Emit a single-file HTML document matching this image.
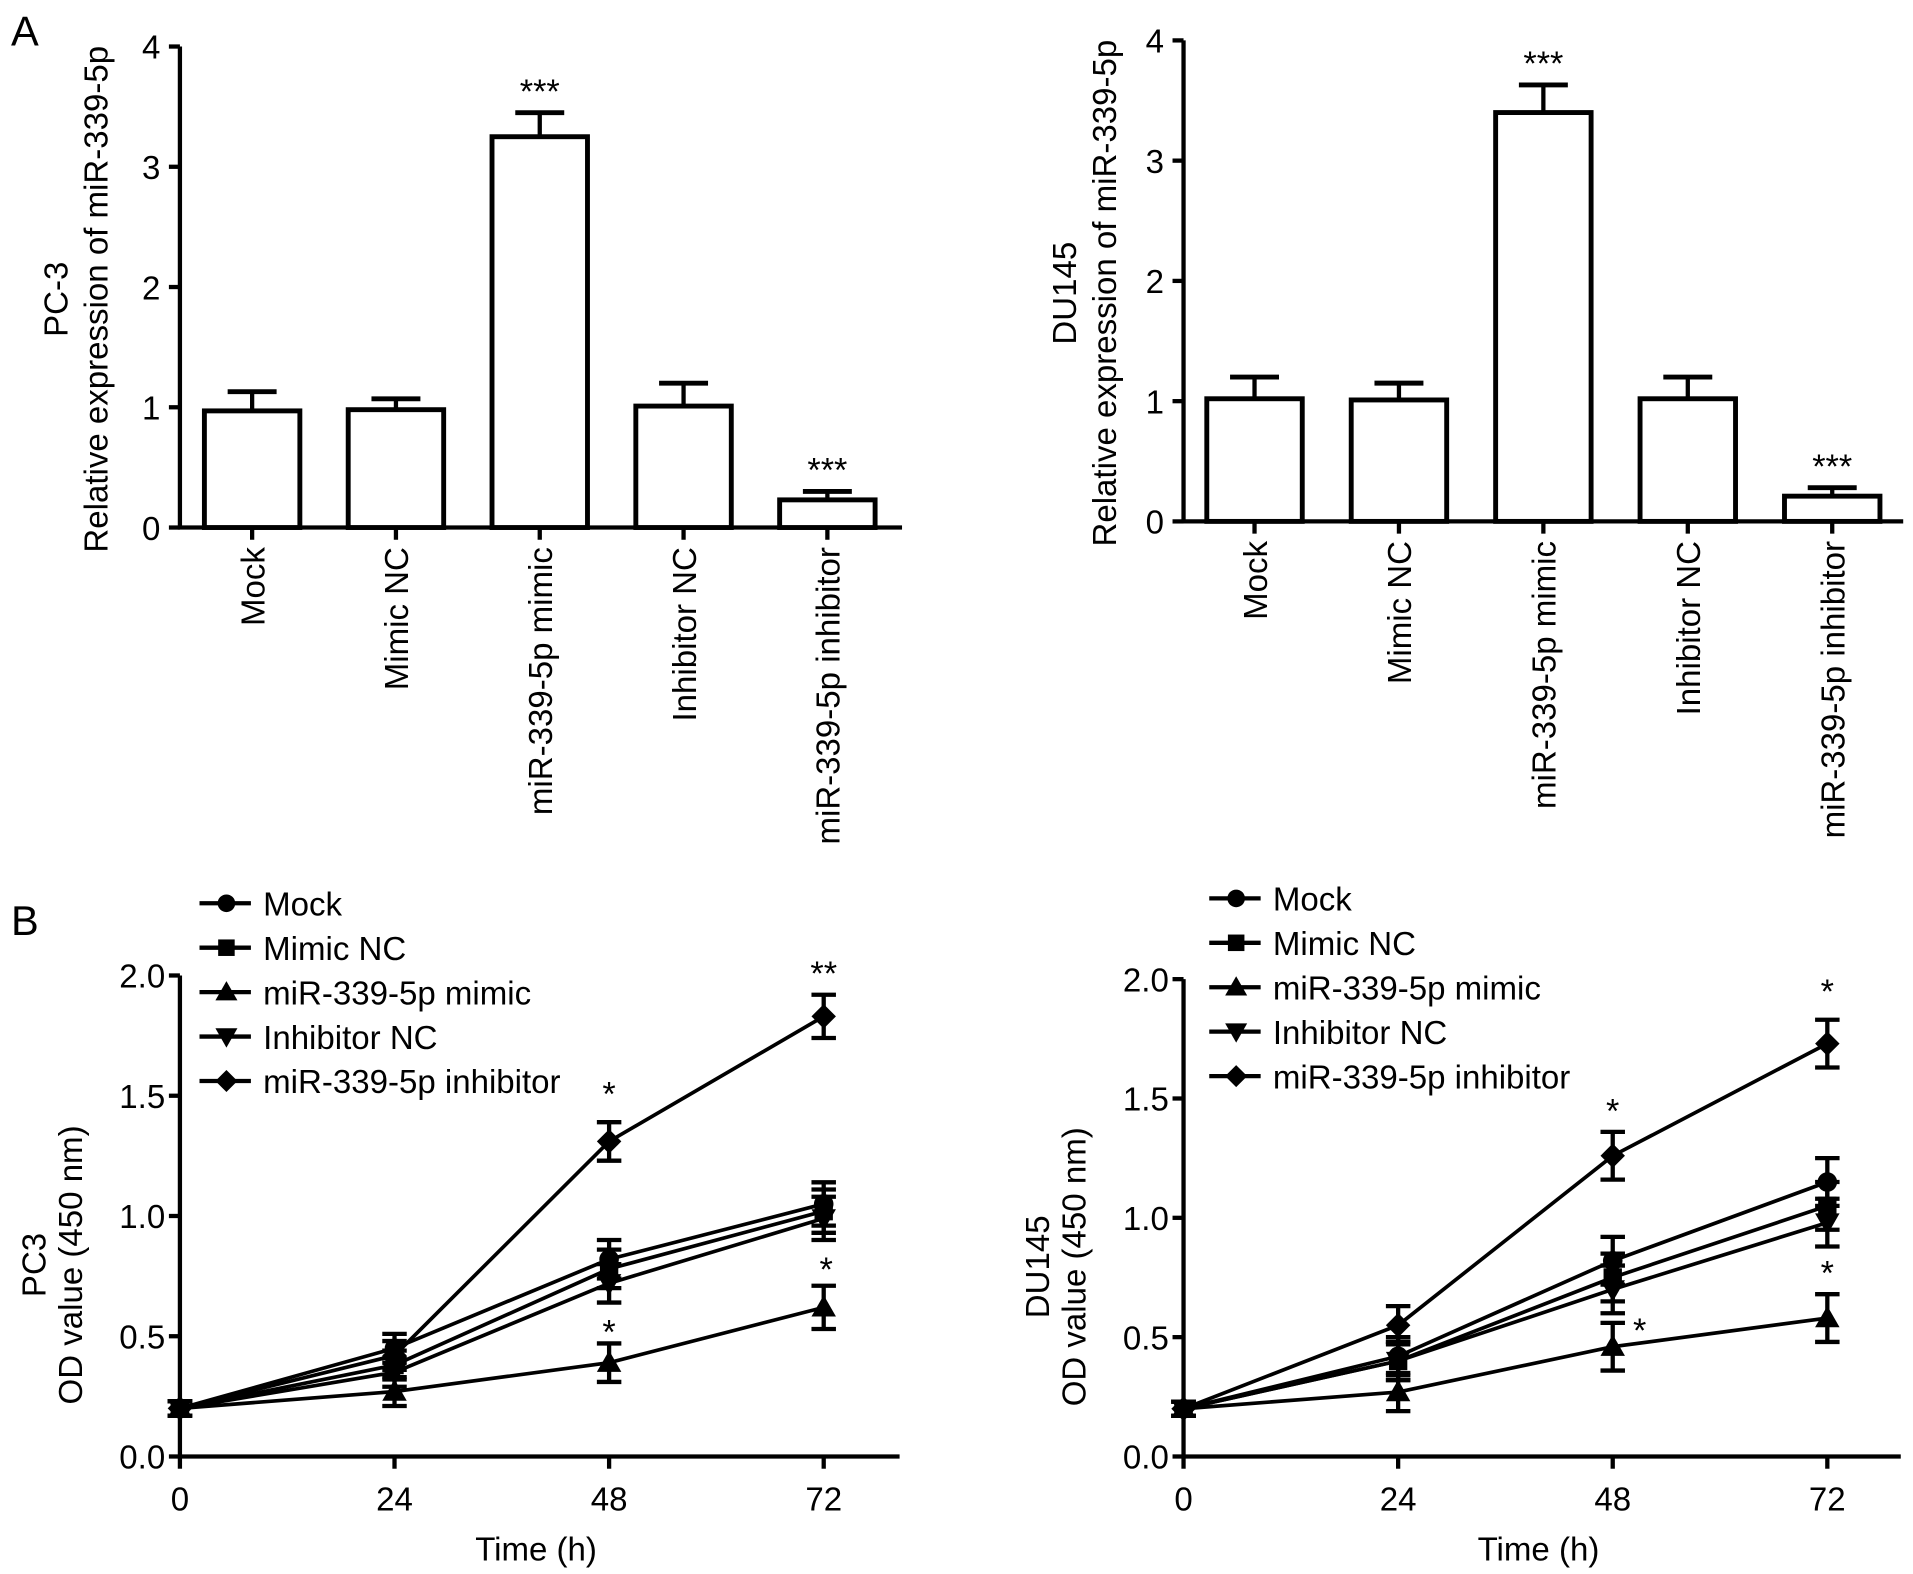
<!DOCTYPE html>
<html><head><meta charset="utf-8">
<style>
html,body{margin:0;padding:0;background:#fff;}
svg{display:block;font-family:"Liberation Sans",Arial,sans-serif;}
</style></head>
<body>
<svg id="fig" width="1913" height="1574" viewBox="0 0 1563 1286" xmlns="http://www.w3.org/2000/svg">
<text x="9" y="37" font-size="34">A</text>
<text x="9" y="764" font-size="34">B</text>
</svg>
<script>
const barCategories = ["Mock","Mimic NC","miR-339-5p mimic","Inhibitor NC","miR-339-5p inhibitor"];
const pc3BarValues = [0.97,0.98,3.25,1.01,0.23];
const pc3BarErrors = [0.16,0.09,0.2,0.19,0.07];
const pc3BarStars = ["","","***","","***"];
const du145BarValues = [1.02,1.01,3.4,1.02,0.21];
const du145BarErrors = [0.18,0.14,0.23,0.18,0.07];
const du145BarStars = ["","","***","","***"];
const barTicks = [0,1,2,3,4];

const timePoints = [0,24,48,72];
const timeTicks = ["0","24","48","72"];
const odTicks = [0.0,0.5,1.0,1.5,2.0];
const seriesNames = ["Mock","Mimic NC","miR-339-5p mimic","Inhibitor NC","miR-339-5p inhibitor"];
const seriesMarkers = ["circle","square","triangle","tridown","diamond"];
const pc3Mock = [0.2,0.45,0.82,1.05];
const pc3MimicNC = [0.2,0.38,0.78,1.02];
const pc3Mimic = [0.2,0.27,0.39,0.62];
const pc3InhNC = [0.2,0.35,0.72,0.99];
const pc3Inh = [0.2,0.42,1.31,1.83];
const pc3Err = [0.03,0.06,0.08,0.09];
const du145Mock = [0.2,0.42,0.82,1.15];
const du145MimicNC = [0.2,0.4,0.75,1.05];
const du145Mimic = [0.2,0.27,0.46,0.58];
const du145InhNC = [0.2,0.4,0.7,0.98];
const du145Inh = [0.2,0.55,1.26,1.73];
const du145Err = [0.03,0.08,0.1,0.1];

const FS=27;
const NS="http://www.w3.org/2000/svg";
const svg=document.getElementById('fig');
function el(tag,attrs,parent){const e=document.createElementNS(NS,tag);for(const k in attrs)e.setAttribute(k,attrs[k]);(parent||svg).appendChild(e);return e;}
function txt(x,y,s,size,anchor,parent,rot){const t=el('text',{x:x,y:y,'font-size':size,'text-anchor':anchor||'middle'},parent);if(rot)t.setAttribute('transform',rot);t.textContent=s;return t;}

function barPanel(o){
  const g=el('g',{});
  
  
  const y=v=>o.y0+(o.y4-o.y0)*v/4;
  const ax=el('path',{d:`M${o.ax},${o.y4}V${o.y0}H${o.xend}`,stroke:'#000','stroke-width':3.5,fill:'none'},g);
  
  
  barTicks.forEach(t=>{
    el('line',{x1:o.ax-9,x2:o.ax,y1:y(t),y2:y(t),stroke:'#000','stroke-width':3.5},g);
    const tl=txt(o.ax-16,y(t)+10,String(t),FS,'end',g);
    
    
  });
  barCategories.forEach((c,i)=>{
    const cx=o.c0+i*o.step, v=o.vals[i], e=o.errs[i];
    el('line',{x1:cx,x2:cx,y1:o.y0,y2:o.y0+10,stroke:'#000','stroke-width':3.5},g);
    el('line',{x1:cx,x2:cx,y1:y(v),y2:y(v+e),stroke:'#000','stroke-width':3.5},g);
    el('line',{x1:cx-20,x2:cx+20,y1:y(v+e),y2:y(v+e),stroke:'#000','stroke-width':4},g);
    const r=el('rect',{x:cx-39,y:y(v),width:78,height:o.y0-y(v),fill:'#fff',stroke:'#000','stroke-width':4},g);
    
    
    if(o.stars[i]){const s=txt(cx,y(v+e)-8,o.stars[i],28,'middle',g);
      
      }
    const l=txt(cx+10,o.y0+16,c,FS,'end',g,`rotate(-90 ${cx+10} ${o.y0+16})`);
    
    
  });
  const cy=(o.y0+o.y4)/2+10;
  const t1=txt(o.tx,cy,o.title1,FS,'middle',g,`rotate(-90 ${o.tx} ${cy})`);
  
  
  const t2=txt(o.tx+33,cy,'Relative expression of miR-339-5p',FS,'middle',g,`rotate(-90 ${o.tx+33} ${cy})`);
  
  
}
barPanel({name:'pc3-bar-chart',ax:147,y0:431,y4:38,xend:737,c0:206,step:117.5,vals:pc3BarValues,errs:pc3BarErrors,stars:pc3BarStars,tx:55,title1:'PC-3'});
barPanel({name:'du145-bar-chart',ax:967,y0:426,y4:33,xend:1555,c0:1025,step:118,vals:du145BarValues,errs:du145BarErrors,stars:du145BarStars,tx:879,title1:'DU145'});

function marker(g,type,x,y,s){
  let m;
  if(type==='circle')m=el('circle',{cx:x,cy:y,r:s*0.8},g);
  else if(type==='square')m=el('rect',{x:x-s*0.75,y:y-s*0.75,width:s*1.5,height:s*1.5},g);
  else if(type==='triangle')m=el('polygon',{points:`${x},${y-s} ${x-s},${y+s*0.75} ${x+s},${y+s*0.75}`},g);
  else if(type==='tridown')m=el('polygon',{points:`${x},${y+s} ${x-s},${y-s*0.75} ${x+s},${y-s*0.75}`},g);
  else m=el('polygon',{points:`${x},${y-s} ${x+s},${y} ${x},${y+s} ${x-s},${y}`},g);
  m.setAttribute('fill','#000');
  return m;
}
function linePanel(o){
  const g=el('g',{});
  
  
  const y=v=>o.y0+(o.y2-o.y0)*v/2;
  const x=t=>o.ax+(o.x72-o.ax)*t/72;
  const ax=el('path',{d:`M${o.ax},${o.y2}V${o.y0}H${o.xend}`,stroke:'#000','stroke-width':3.5,fill:'none'},g);
  
  
  odTicks.forEach(t=>{
    el('line',{x1:o.ax-9,x2:o.ax,y1:y(t),y2:y(t),stroke:'#000','stroke-width':3.5},g);
    const tl=txt(o.ax-12,y(t)+10,t.toFixed(1),FS,'end',g);
    
    
  });
  timePoints.forEach((t,i)=>{
    el('line',{x1:x(t),x2:x(t),y1:o.y0,y2:o.y0+10,stroke:'#000','stroke-width':3.5},g);
    const tl=txt(x(t),o.y0+44,timeTicks[i],FS,'middle',g);
    
    
  });
  const xt=txt((o.ax+o.xend)/2-3,o.y0+85,'Time (h)',FS,'middle',g);
  
  
  const cy=(o.y0+o.y2)/2+40;
  const t1=txt(o.tx,cy,o.title1,FS,'middle',g,`rotate(-90 ${o.tx} ${cy})`);
  
  
  const t2=txt(o.tx+30,cy,'OD value (450 nm)',FS,'middle',g,`rotate(-90 ${o.tx+30} ${cy})`);
  
  
  o.series.forEach((vals,si)=>{
    const sg=el('g',{},g);
    
    
    const ln=el('polyline',{points:vals.map((v,i)=>x(timePoints[i])+','+y(v)).join(' '),fill:'none',stroke:'#000','stroke-width':3},sg);
    
    
    vals.forEach((v,i)=>{
      const e=o.err[i],cx=x(timePoints[i]);
      el('path',{d:`M${cx},${y(v-e)}V${y(v+e)}M${cx-10},${y(v-e)}H${cx+10}M${cx-10},${y(v+e)}H${cx+10}`,stroke:'#000','stroke-width':3.5,fill:'none'},sg);
      const m=marker(sg,seriesMarkers[si],cx,y(v),10);
      
      
    });
  });
  o.stars.forEach(s=>{
    const t=txt(x(s[0])+s[3],y(s[1]),s[2],28,'middle',g);
    
    
  });
  seriesNames.forEach((n,i)=>{
    const ly=o.ly+i*36.3;
    const lg=el('g',{},g);
    
    
    el('line',{x1:o.lx,x2:o.lx+42,y1:ly,y2:ly,stroke:'#000','stroke-width':3.5},lg);
    marker(lg,seriesMarkers[i],o.lx+22,ly,9);
    txt(o.lx+52,ly+10,n,FS,'start',lg);
  });
}
linePanel({name:'pc3-growth-chart',ax:147,y0:1190,y2:797,x72:673,xend:735,tx:37,title1:'PC3',
  series:[pc3Mock,pc3MimicNC,pc3Mimic,pc3InhNC,pc3Inh],err:pc3Err,lx:163,ly:738,
  stars:[[48,1.46,'*',0],[72,1.96,'**',0],[48,0.47,'*',0],[72,0.73,'*',2]]});
linePanel({name:'du145-growth-chart',ax:967,y0:1190,y2:800,x72:1493,xend:1553,tx:857,title1:'DU145',
  series:[du145Mock,du145MimicNC,du145Mimic,du145InhNC,du145Inh],err:du145Err,lx:988,ly:734,
  stars:[[48,1.4,'*',0],[72,1.9,'*',0],[48,0.48,'*',22],[72,0.72,'*',0]]});
</script>
</body></html>
